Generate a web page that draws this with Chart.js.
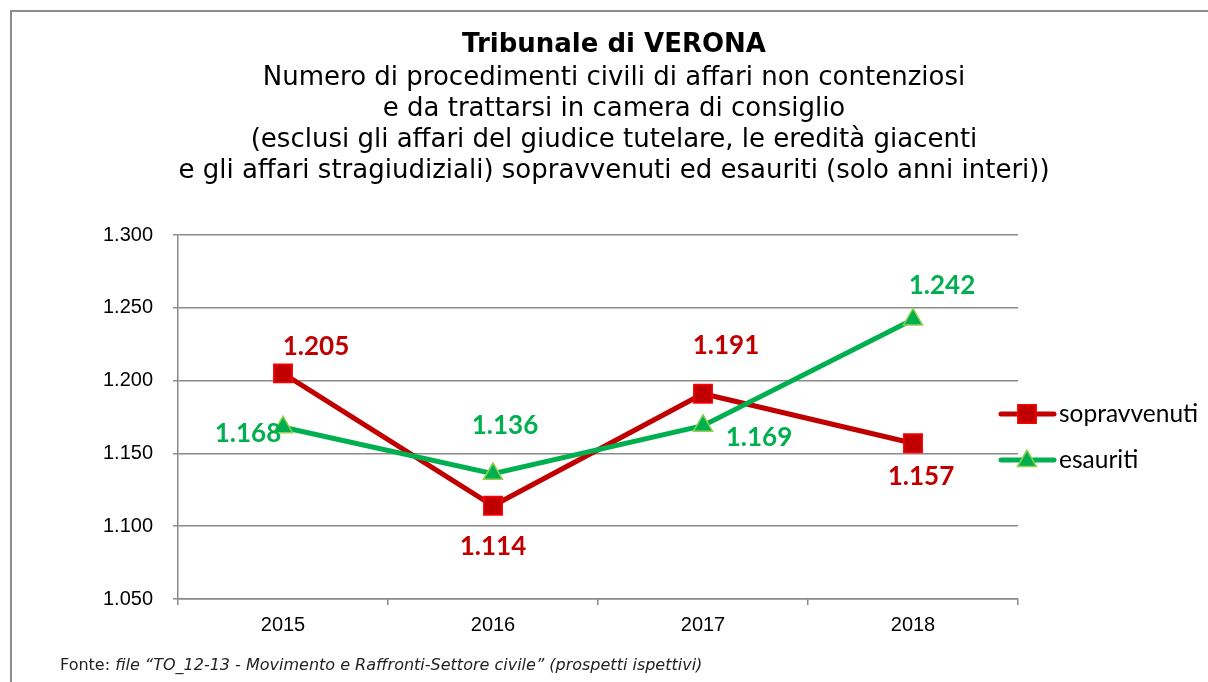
<!DOCTYPE html>
<html lang="it">
<head>
    <meta charset="UTF-8">
    <title>Tribunale di VERONA</title>
    <style>
        body {
    margin: 0;
    background-color: #ffffff;
}

.wrap {
    position: relative;
    width: 1208px;
    height: 682px;
    overflow: hidden;
}

.frame {
    position: absolute;
    left: 10px;
    top: 10px;
    width: 1300px;
    height: 800px;
    border-left: 2px solid #8c8c8c;
    border-top: 2px solid #8c8c8c;
}

#chart {
    position: absolute;
    left: 0;
    top: 0;
}

.fonte {
    position: absolute;
    left: 60px;
    top: 655px;
    font-family: 'DejaVu Sans', Verdana, sans-serif;
    font-size: 16px;
    color: #222;
}
    </style>
    <script src="https://cdn.jsdelivr.net/npm/chart.js"></script>
</head>
<body>

<div class="wrap">
    <div class="frame"></div>
    <canvas id="chart" width="1208" height="682"></canvas>
    <div class="fonte">Fonte: <i>file “TO_12-13 - Movimento e Raffronti-Settore civile” (prospetti ispettivi)</i></div>
</div>

<script>
// data
const anni = ['2015', '2016', '2017', '2018'];
const sopravvenuti = [1205, 1114, 1191, 1157];
const esauriti = [1168, 1136, 1169, 1242];
const yMin = 1050;
const yMax = 1300;
const yStep = 50;

// where each value label sits relative to its point (dx, dy)
const labelOffsetsSopr = [[33, -27], [0, 41], [23, -48], [8, 33]];
const labelOffsetsEsau = [[-35, 6], [12, -48], [56, 12], [29, -34]];

const RED = '#C00000';
const GREEN = '#00B050';

function fmt(v) {
    v = Math.round(v);
    const th = Math.floor(v / 1000);
    const rest = String(v % 1000).padStart(3, '0');
    return th > 0 ? th + '.' + rest : String(v);
}

// value labels next to each point
const valueLabels = {
    id: 'valueLabels',
    afterDatasetsDraw(chart) {
        const ctx = chart.ctx;
        ctx.save();
        ctx.font = 'bold 26px Lato, "Open Sans", sans-serif';
        ctx.textAlign = 'center';
        ctx.textBaseline = 'middle';
        chart.data.datasets.forEach((ds, i) => {
            const meta = chart.getDatasetMeta(i);
            meta.data.forEach((pt, j) => {
                const off = ds.labelOffsets[j];
                ctx.fillStyle = ds.labelColor;
                ctx.fillText(fmt(ds.data[j]), pt.x + off[0], pt.y + off[1]);
            });
        });
        ctx.restore();
    }
};

// legend on the right: line with marker in the middle
const sideLegend = {
    id: 'sideLegend',
    afterDraw(chart) {
        const ctx = chart.ctx;
        const x0 = chart.chartArea.right - 19;
        const rows = [414, 460];
        ctx.save();
        chart.data.datasets.forEach((ds, i) => {
            const y = rows[i];
            ctx.strokeStyle = ds.borderColor;
            ctx.lineWidth = 5;
            ctx.lineCap = 'round';
            ctx.beginPath();
            ctx.moveTo(x0 + 2, y);
            ctx.lineTo(x0 + 55, y);
            ctx.stroke();
            ctx.lineCap = 'butt';
            ctx.fillStyle = ds.pointBackgroundColor;
            ctx.strokeStyle = ds.pointBorderColor;
            ctx.lineWidth = ds.pointBorderWidth;
            Chart.helpers.drawPoint(ctx, {
                pointStyle: ds.pointStyle,
                rotation: 0,
                radius: ds.pointRadius,
                borderWidth: ds.pointBorderWidth
            }, x0 + 28, y + (i === 1 ? 1 : 0));
            ctx.fillStyle = '#000';
            ctx.font = '24.5px Lato, "Open Sans", sans-serif';
            ctx.textAlign = 'left';
            ctx.textBaseline = 'middle';
            ctx.fillText(ds.label, x0 + 60, y);
        });
        ctx.restore();
    }
};

const ctx = document.getElementById('chart').getContext('2d');
const chart = new Chart(ctx, {
    type: 'line',
    data: {
        labels: anni,
        datasets: [
            {
                label: 'sopravvenuti',
                data: sopravvenuti,
                yAxisID: 'y',
                borderColor: RED,
                borderWidth: 5,
                pointStyle: 'rect',
                pointRadius: 13,
                pointBackgroundColor: RED,
                pointBorderColor: '#FF0000',
                pointBorderWidth: 1.5,
                labelColor: RED,
                labelOffsets: labelOffsetsSopr,
                order: 1
            },
            {
                label: 'esauriti',
                data: esauriti,
                yAxisID: 'y',
                borderColor: GREEN,
                borderWidth: 5,
                pointStyle: 'triangle',
                pointRadius: 11,
                pointBackgroundColor: GREEN,
                pointBorderColor: '#92D050',
                pointBorderWidth: 1.5,
                labelColor: GREEN,
                labelOffsets: labelOffsetsEsau,
                order: 0
            }
        ]
    },
    options: {
        responsive: false,
        animation: false,
        layout: {
            padding: { left: 20, right: 0, top: 0, bottom: 0 }
        },
        plugins: {
            legend: { display: false },
            tooltip: { enabled: false },
            title: {
                display: true,
                text: 'Tribunale di VERONA',
                color: '#000',
                font: { family: '"DejaVu Sans", Verdana, sans-serif', size: 26, weight: 'bold', lineHeight: 1.2 },
                padding: { top: 29.5, bottom: 0 }
            },
            subtitle: {
                display: true,
                text: [
                    'Numero di procedimenti civili di affari non contenziosi',
                    'e da trattarsi in camera di consiglio',
                    '(esclusi gli affari del giudice tutelare, le eredità giacenti',
                    'e gli affari stragiudiziali) sopravvenuti ed esauriti (solo anni interi))'
                ],
                color: '#000',
                font: { family: '"DejaVu Sans", Verdana, sans-serif', size: 26, weight: 'normal', lineHeight: 31 / 26 },
                padding: { top: 1.8, bottom: 48.5 }
            }
        },
        scales: {
            x: {
                offset: true,
                afterFit(scale) { scale.height = 83; },
                grid: {
                    offset: true,
                    drawOnChartArea: false,
                    color: '#8a8a8a',
                    lineWidth: 1.5,
                    tickLength: 6
                },
                border: { color: '#8a8a8a', width: 1.5 },
                ticks: {
                    color: '#000',
                    padding: 8,
                    font: { family: '"Liberation Sans", Arial, sans-serif', size: 20 }
                }
            },
            y: {
                min: yMin,
                max: yMax,
                afterFit(scale) { scale.width = 158; },
                grid: {
                    color: '#8a8a8a',
                    lineWidth: 1.5,
                    tickLength: 5
                },
                border: { color: '#8a8a8a', width: 1.5 },
                ticks: {
                    stepSize: yStep,
                    color: '#000',
                    padding: 20,
                    font: { family: '"Liberation Sans", Arial, sans-serif', size: 20 },
                    callback: (v) => fmt(v)
                }
            },
            // empty right axis, only keeps room for the legend
            spazio: {
                type: 'linear',
                position: 'right',
                min: yMin,
                max: yMax,
                afterFit(scale) { scale.width = 190; },
                grid: { display: false },
                border: { display: false },
                ticks: { display: false }
            }
        }
    },
    plugins: [valueLabels, sideLegend]
});
</script>

</body>
</html>
